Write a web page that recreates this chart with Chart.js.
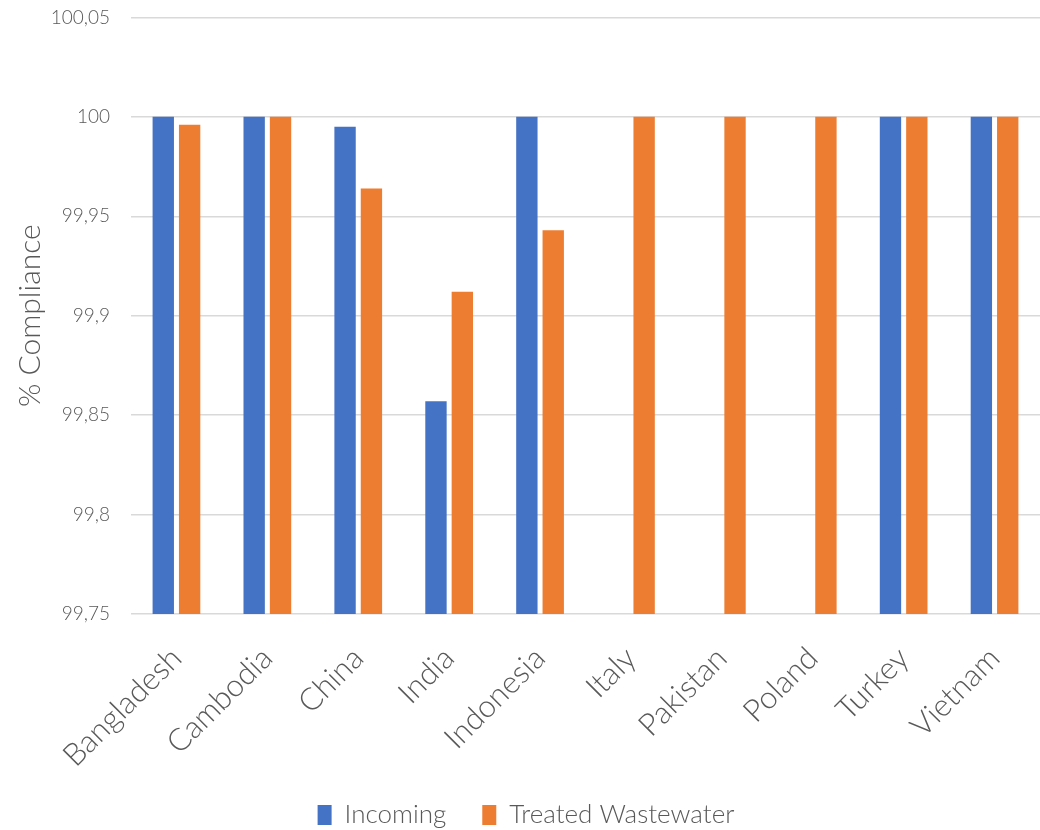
<!DOCTYPE html>
<html>
<head>
<meta charset="utf-8">
<script src="https://cdn.jsdelivr.net/npm/chart.js@4/dist/chart.umd.min.js"></script>
<style>
    html, body { margin: 0; padding: 0; background: #fff; }
    #wrap { position: relative; width: 1040px; height: 830px; }
</style>
</head>
<body>
<div id="wrap"><canvas id="complianceChart"></canvas></div>
<script>
const countries = ['Bangladesh', 'Cambodia', 'China', 'India', 'Indonesia', 'Italy', 'Pakistan', 'Poland', 'Turkey', 'Vietnam'];
const incoming = [100, 100, 99.995, 99.857, 100, null, null, null, 100, 100];
const treatedWastewater = [99.996, 100, 99.964, 99.912, 99.943, 100, 100, 100, 100, 100];
const yTicks = [99.75, 99.8, 99.85, 99.9, 99.95, 100, 100.05];

const textColor = '#595959';
const fontFamily = "Lato, 'Open Sans', sans-serif";

const ctx = document.getElementById('complianceChart').getContext('2d');

new Chart(ctx, {
    type: 'bar',
    data: {
        labels: countries,
        datasets: [
            {
                label: 'Incoming',
                data: incoming,
                backgroundColor: '#4472c4',
                categoryPercentage: 0.58,
                barPercentage: 0.81
            },
            {
                label: 'Treated Wastewater',
                data: treatedWastewater,
                backgroundColor: '#ed7d31',
                categoryPercentage: 0.58,
                barPercentage: 0.81
            }
        ]
    },
    options: {
        responsive: true,
        maintainAspectRatio: false,
        animation: false,
        layout: {
            padding: { left: 12, right: 0, top: 0, bottom: -8 }
        },
        plugins: {
            legend: {
                position: 'bottom',
                labels: {
                    color: textColor,
                    font: { family: fontFamily, size: 26, weight: 300 },
                    boxWidth: 14,
                    boxHeight: 20,
                    padding: 36
                }
            },
            tooltip: { enabled: false }
        },
        scales: {
            x: {
                grid: { display: false },
                border: { display: false },
                afterFit: function(axis) {
                    axis.height = 152;
                },
                ticks: {
                    color: textColor,
                    font: { family: fontFamily, size: 31, weight: 300 },
                    maxRotation: 45,
                    minRotation: 45,
                    padding: 18
                }
            },
            y: {
                min: 99.75,
                max: 100.05,
                afterBuildTicks: function(axis) {
                    axis.ticks = yTicks.map(v => ({ value: v }));
                },
                afterFit: function(axis) {
                    axis.width = 119;
                },
                grid: { color: '#d9d9d9', lineWidth: 1.5, drawTicks: true, tickLength: 15, tickColor: 'rgba(0,0,0,0)' },
                border: { display: false },
                ticks: {
                    color: textColor,
                    font: { family: fontFamily, size: 19, weight: 300 },
                    padding: 6,
                    callback: function(value) {
                        return String(Number(value.toFixed(2))).replace('.', ',');
                    }
                },
                title: {
                    display: true,
                    text: '% Compliance',
                    color: textColor,
                    font: { family: fontFamily, size: 30, weight: 300 },
                    padding: { top: 0, bottom: 0 }
                }
            }
        }
    }
});
</script>
</body>
</html>
